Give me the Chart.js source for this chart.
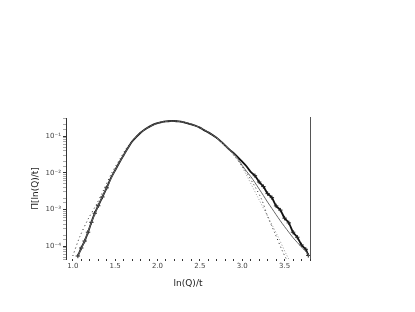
<!DOCTYPE html>
<html>
<head>
<meta charset="utf-8">
<script src="https://cdn.jsdelivr.net/npm/chart.js@4.4.1/dist/chart.umd.min.js"></script>
<style>
  html, body { margin: 0; padding: 0; background: #fff; }
  #wrap { width: 415px; height: 312px; }
</style>
</head>
<body>
<div id="wrap"><canvas id="chart" width="415" height="312"></canvas></div>
<script>
// --- DATA ---
const dataX = [1.06, 1.10, 1.14, 1.18, 1.22, 1.26, 1.30, 1.35, 1.40, 1.45, 1.50, 1.55, 1.60, 1.65, 1.70, 1.75,
  1.80, 1.85, 1.90, 1.95, 2.00, 2.05, 2.10, 2.15, 2.20, 2.25, 2.30, 2.35, 2.40, 2.45, 2.50, 2.55, 2.60, 2.65,
  2.70, 2.75, 2.80, 2.85, 2.90, 2.95, 3.00, 3.05, 3.10, 3.15, 3.20, 3.25, 3.30, 3.35, 3.40, 3.45, 3.50,
  3.55, 3.60, 3.65, 3.70, 3.75, 3.78];
const dataY = [5.4e-5, 8.9e-5, 1.38e-4, 2.4e-4, 4.47e-4, 7.9e-4, 1.26e-3, 2.19e-3, 3.89e-3, 7.1e-3, 0.0117,
  0.019, 0.030, 0.047, 0.0708, 0.0955, 0.123, 0.151, 0.178, 0.204, 0.224, 0.240, 0.251, 0.257, 0.257,
  0.251, 0.240, 0.224, 0.209, 0.191, 0.170, 0.145, 0.126, 0.107, 0.0891, 0.0708, 0.055, 0.0427, 0.0339,
  0.0263, 0.020, 0.0150, 0.0105, 8.3e-3, 5.6e-3, 4.2e-3, 2.7e-3, 2.1e-3, 1.25e-3, 9.6e-4, 5.8e-4,
  4.3e-4, 2.4e-4, 1.75e-4, 1.08e-4, 8.2e-5, 5.6e-5];

const fitX = [1.06, 1.14, 1.22, 1.30, 1.40, 1.50, 1.60, 1.70, 1.80, 1.90, 2.00, 2.10, 2.20, 2.30, 2.40,
  2.50, 2.60, 2.70, 2.80, 2.90, 2.95, 3.00, 3.05, 3.10, 3.15, 3.20, 3.25, 3.30, 3.35, 3.40, 3.45, 3.50,
  3.55, 3.60, 3.65, 3.70, 3.75, 3.79];
const fitY = [5.4e-5, 1.38e-4, 4.47e-4, 1.26e-3, 3.89e-3, 0.0117, 0.030, 0.0708, 0.123, 0.178, 0.224,
  0.251, 0.257, 0.240, 0.209, 0.170, 0.126, 0.0891, 0.055, 0.0339, 0.024, 0.0158, 0.011, 7.9e-3, 5.4e-3,
  3.6e-3, 2.4e-3, 1.58e-3, 1.07e-3, 7.2e-4, 4.9e-4, 3.4e-4, 2.4e-4, 1.7e-4, 1.26e-4, 9.5e-5, 7.2e-5, 5.4e-5];

const gaussX = [1.00, 1.08, 1.18, 1.28, 1.35, 1.45, 1.55, 1.65, 1.80, 2.00, 2.20, 2.40, 2.60, 2.80, 2.91,
  3.03, 3.15, 3.23, 3.30, 3.38, 3.48, 3.52];
const gaussY = [5.4e-5, 1.74e-4, 5.4e-4, 1.38e-3, 2.9e-3, 8.9e-3, 0.0224, 0.0525, 0.126, 0.224, 0.257,
  0.209, 0.126, 0.055, 0.028, 0.012, 4.2e-3, 1.86e-3, 6.5e-4, 2.4e-4, 6.9e-5, 4.5e-5];

const tailX = [2.70, 2.85, 2.95, 3.06, 3.18, 3.30, 3.42, 3.52, 3.56];
const tailY = [0.089, 0.040, 0.0224, 7.8e-3, 2.24e-3, 6.5e-4, 1.86e-4, 6.0e-5, 4.0e-5];

const xTickLabels = ['1.0', '1.5', '2.0', '2.5', '3.0', '3.5'];
const supers = { '-': '\u207B', '0': '\u2070', '1': '\u00B9', '2': '\u00B2', '3': '\u00B3', '4': '\u2074' };

function pts(xs, ys) { return xs.map((x, i) => ({ x: x, y: ys[i] })); }

// right frame line
const rightLine = {
  id: 'rightLine',
  afterDraw(chart) {
    const a = chart.chartArea, c = chart.ctx;
    c.save();
    c.strokeStyle = '#555';
    c.lineWidth = 1;
    c.beginPath();
    c.moveTo(a.right + 0.5, a.top - 1);
    c.lineTo(a.right + 0.5, a.bottom);
    c.stroke();
    c.restore();
  }
};

new Chart(document.getElementById('chart'), {
  type: 'scatter',
  data: {
    datasets: [
      { label: 'gauss', data: pts(gaussX, gaussY), showLine: true, borderColor: '#222', borderWidth: 1,
        borderDash: [1, 3], pointRadius: 0, tension: 0.3 },
      { label: 'tail', data: pts(tailX, tailY), showLine: true, borderColor: '#999', borderWidth: 1,
        borderDash: [1, 2], pointRadius: 0, tension: 0.3 },
      { label: 'fit', data: pts(fitX, fitY), showLine: true, borderColor: '#666', borderWidth: 1,
        pointRadius: 0, tension: 0.3 },
      { label: 'data', data: pts(dataX, dataY), showLine: true, borderColor: '#111', borderWidth: 1.8,
        pointStyle: 'cross', pointBorderColor: '#222', pointBorderWidth: 1, tension: 0.3,
        // crosses only stand out on the two tails
        pointRadius: ctx => {
          const x = ctx.raw ? ctx.raw.x : 2;
          return (x < 1.42 || x > 3.12) ? 2.2 : 0;
        } }
    ]
  },
  options: {
    responsive: false,
    animation: false,
    layout: { padding: { left: 30, right: 105, top: 118, bottom: 23 } },
    plugins: { legend: { display: false }, tooltip: { enabled: false } },
    scales: {
      x: {
        type: 'linear', min: 0.92, max: 3.8,
        afterFit: s => { s.height = 30; },
        border: { display: false },
        grid: { drawOnChartArea: false, tickLength: 2, color: '#333' },
        ticks: {
          stepSize: 0.1, includeBounds: false, autoSkip: false, maxRotation: 0, padding: 1,
          font: { family: 'DejaVu Sans', size: 7 }, color: '#444',
          callback: v => {
            const s = v.toFixed(1);
            return xTickLabels.includes(s) ? s : '';
          }
        },
        title: { display: true, text: 'ln(Q)/t', font: { family: 'DejaVu Sans', size: 9 }, color: '#222',
          padding: { top: 2, bottom: 0 } }
      },
      y: {
        type: 'logarithmic', min: 4.47e-5, max: 0.31,
        afterFit: s => { s.width = 36; },
        border: { display: true, color: '#333', width: 1 },
        grid: {
          drawOnChartArea: false, tickLength: 3,
          color: ctx => {
            const e = Math.log10(ctx.tick.value);
            return Math.abs(e - Math.round(e)) < 1e-6 ? '#333' : '#aaa';
          }
        },
        ticks: {
          autoSkip: false, padding: 2,
          font: { family: 'DejaVu Sans', size: 7 }, color: '#444',
          callback: v => {
            const e = Math.log10(v);
            if (Math.abs(e - Math.round(e)) > 1e-6) return '';
            return '10' + String(Math.round(e)).split('').map(ch => supers[ch]).join('');
          }
        },
        title: { display: true, text: '\u03A0[ln(Q)/t]', font: { family: 'DejaVu Sans', size: 9 }, color: '#222',
          padding: { top: 0, bottom: 2 } }
      }
    }
  },
  plugins: [rightLine]
});
</script>
</body>
</html>
